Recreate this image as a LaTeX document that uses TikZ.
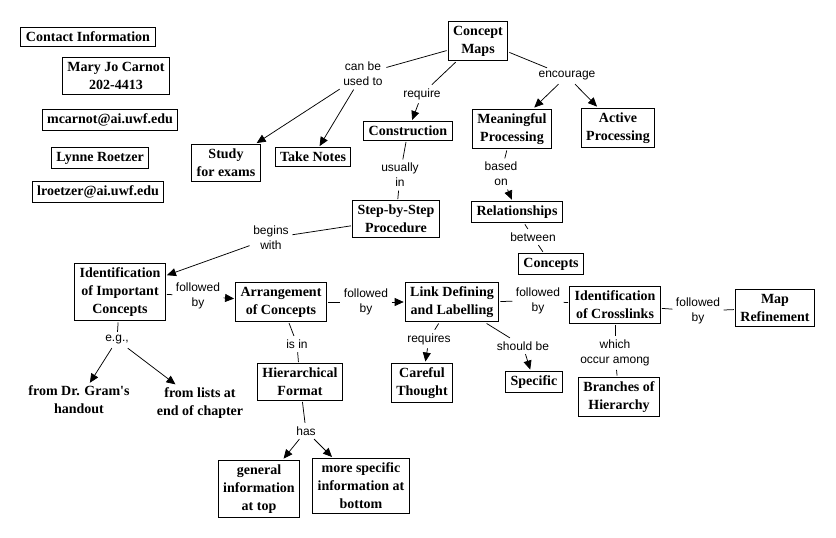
\documentclass[tikz,border=0pt]{standalone}
\usepackage{fontspec}
\setmainfont{Liberation Serif}[Ligatures=TeXOff]
\setsansfont{Liberation Sans}
\usetikzlibrary{arrows.meta}
\begin{document}
\begin{tikzpicture}[x=1pt,y=-1pt,
  box/.style={draw,line width=1pt,inner xsep=5pt,inner ysep=4.5pt,align=center,
    font=\bfseries\fontsize{14}{18}\selectfont,outer sep=1.5pt},
  plain/.style={align=center,font=\bfseries\fontsize{14}{18}\selectfont,inner sep=3pt},
  lab/.style={align=center,font=\sffamily\fontsize{12}{15}\selectfont,inner sep=3.5pt},
  con/.style={line width=0.75pt},
  arw/.style={line width=0.75pt,-{Triangle[length=9pt,width=8pt]}}]
\useasboundingbox (0,0) rectangle (836,538);
% concept boxes
\node[box] (ci) at (88,37) {Contact Information};
\node[box] (mj) at (116,76) {Mary Jo Carnot\\202-4413};
\node[box] (mc) at (110,120) {mcarnot@ai.uwf.edu};
\node[box] (lr) at (100,158) {Lynne Roetzer};
\node[box] (le) at (98,192) {lroetzer@ai.uwf.edu};
\node[box] (cm) at (478,41) {Concept\\Maps};
\node[box] (study) at (226,163) {Study\\for exams};
\node[box] (take) at (313,157) {Take Notes};
\node[box] (cons) at (408,131) {Construction};
\node[box] (mp) at (512,129) {Meaningful\\Processing};
\node[box] (ap) at (618,128) {Active\\Processing};
\node[box] (rel) at (517,212) {Relationships};
\node[box] (conc) at (551,264) {Concepts};
\node[box] (sbs) at (396,219) {Step-by-Step\\Procedure};
\node[box] (iic) at (120,292) {Identification\\of Important\\Concepts};
\node[box] (arr) at (281,302) {Arrangement\\of Concepts};
\node[box] (ldl) at (452,302) {Link Defining\\and Labelling};
\node[box] (icl) at (615,305) {Identification\\of Crosslinks};
\node[box] (mr) at (775,308) {Map\\Refinement};
\node[box] (ct) at (422,383) {Careful\\Thought};
\node[box] (spec) at (534,382) {Specific};
\node[box] (boh) at (619,397) {Branches of\\Hierarchy};
\node[box] (hf) at (300,382) {Hierarchical\\Format};
\node[box] (gi) at (259,489) {general\\information\\at top};
\node[box] (ms) at (361,486) {more specific\\information at\\bottom};
\node[plain] (dg) at (79,400) {from Dr. Gram's\\handout};
\node[plain] (fl) at (200,403) {from lists at\\end of chapter};
% linking phrases
\node[lab] (l1) at (363,74) {can be\\used to};
\node[lab] (l2) at (422,94) {require};
\node[lab] (l3) at (567,76) {encourage};
\node[lab] (l4) at (400,175) {usually\\in};
\node[lab] (l5) at (501,174) {based\\on};
\node[lab] (l6) at (533,237) {between};
\node[lab] (l7) at (271,238) {begins\\with};
\node[lab] (l8) at (198,296) {followed\\by};
\node[lab] (l9) at (366,302) {followed\\by};
\node[lab] (l10) at (538,301) {followed\\by};
\node[lab] (l11) at (698,311) {followed\\by};
\node[lab] (l12) at (429,339) {requires};
\node[lab] (l13) at (523,346) {should be};
\node[lab] (l14) at (615,353) {which\\occur among};
\node[lab] (l15) at (117,340) {e.g.,};
\node[lab] (l16) at (297,344) {is in};
\node[lab] (l17) at (306,431) {has};
% connectors
\draw[con] (cm.197) -- (l1);
\draw[arw] (l1) -- (study);
\draw[arw] (l1) -- (take);
\draw[con] (cm) -- (l2);
\draw[arw] (l2) -- (cons);
\draw[con] (cm.340) -- (l3);
\draw[arw] (l3) -- (mp);
\draw[arw] (l3) -- (ap);
\draw[con] (cons) -- (l4);
\draw[con] (l4) -- (sbs);
\draw[con] (mp) -- (l5);
\draw[arw] (l5) -- (rel);
\draw[con] (rel) -- (l6);
\draw[con] (l6) -- (conc);
\draw[con] (sbs) -- (l7);
\draw[arw] (l7) -- (iic);
\draw[con] (iic) -- (l8);
\draw[arw] (l8) -- (arr);
\draw[con] (arr) -- (l9);
\draw[arw] (l9) -- (ldl);
\draw[con] (ldl) -- (l10);
\draw[con] (l10) -- (icl);
\draw[con] (icl) -- (l11);
\draw[con] (l11) -- (mr);
\draw[con] (ldl) -- (l12);
\draw[arw] (l12) -- (ct);
\draw[con] (ldl) -- (l13);
\draw[arw] (l13) -- (spec);
\draw[con] (icl) -- (l14);
\draw[con] (l14) -- (boh);
\draw[con] (iic) -- (l15);
\draw[arw] (l15) -- (dg);
\draw[arw] (l15) -- (fl);
\draw[con] (arr) -- (l16);
\draw[con] (l16) -- (hf);
\draw[con] (hf) -- (l17);
\draw[arw] (l17) -- (gi);
\draw[arw] (l17) -- (ms);
\end{tikzpicture}
\end{document}
